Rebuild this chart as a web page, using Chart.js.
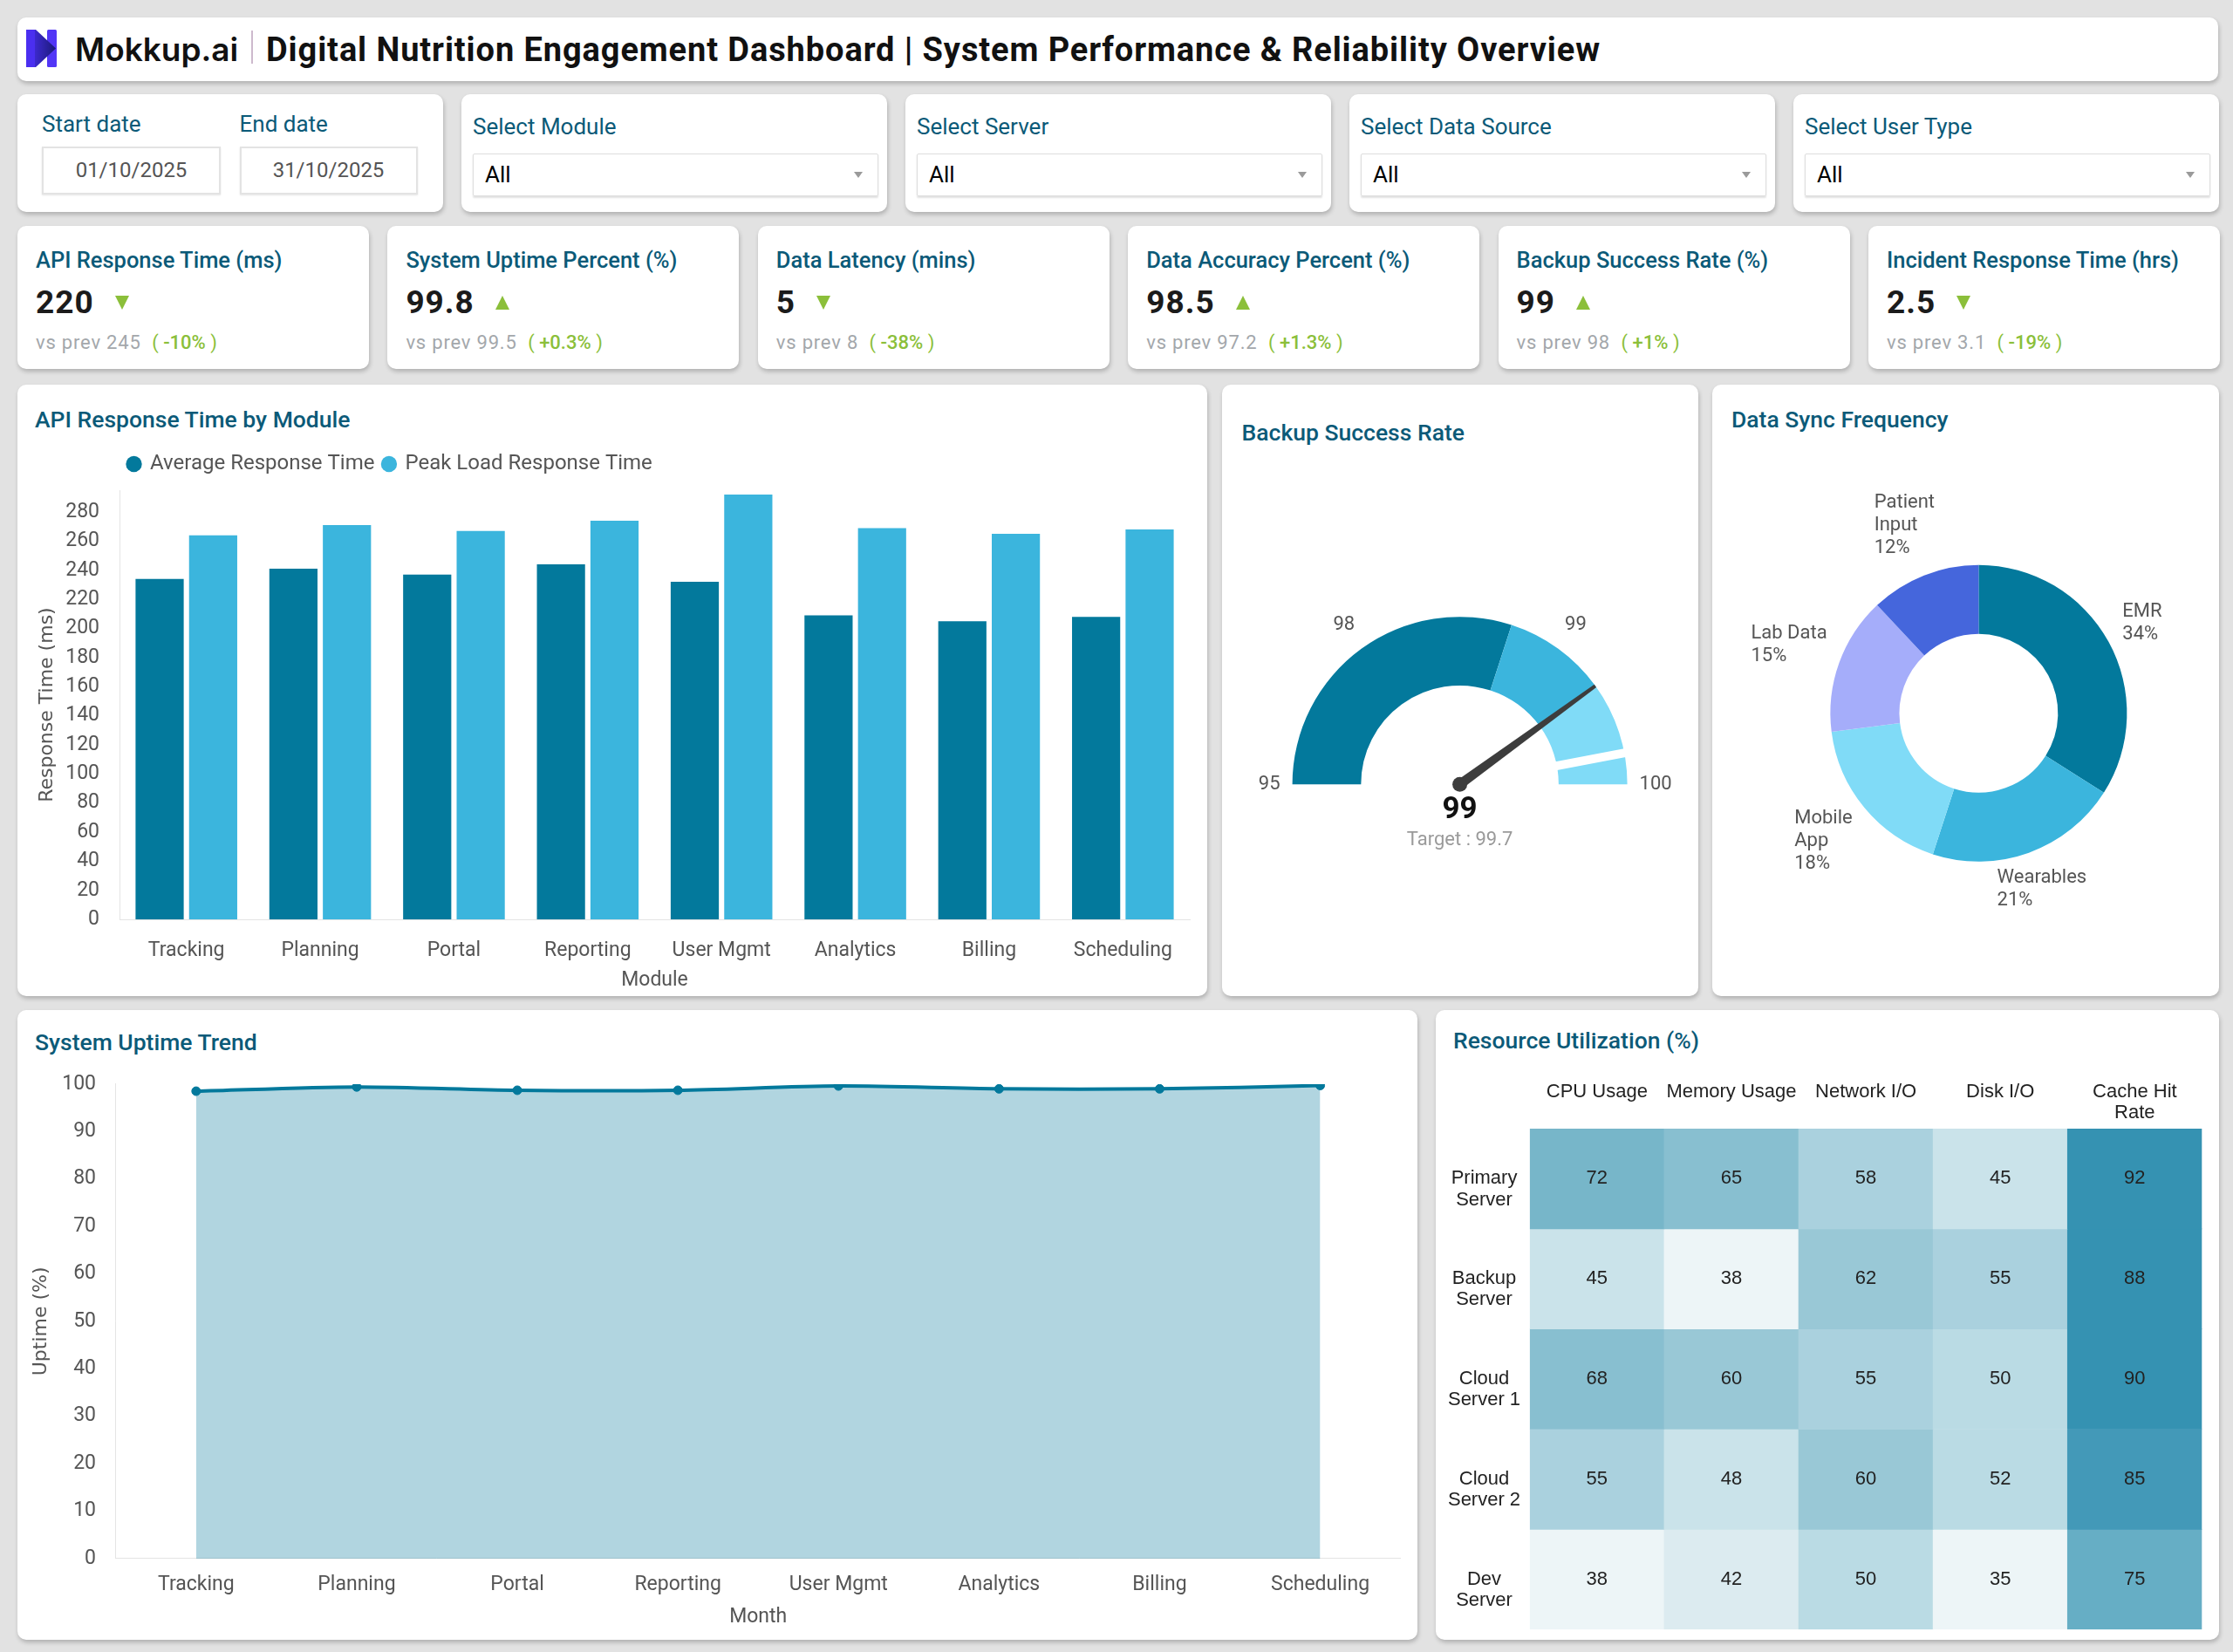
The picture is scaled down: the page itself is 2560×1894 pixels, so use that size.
<!DOCTYPE html>
<html>
<head>
<meta charset="utf-8">
<title>Digital Nutrition Engagement Dashboard</title>
<script src="https://cdn.jsdelivr.net/npm/chart.js@4.4.1/dist/chart.umd.min.js"></script>
<style>
  html, body { margin:0; padding:0; }
  body { width:2560px; height:1894px; background:#e2e2e2; position:relative; overflow:hidden; font-family: Roboto, "Noto Sans", sans-serif; }
  .card { position:absolute; background:#fff; border-radius:10px; box-shadow: 1px 3px 5px rgba(0,0,0,0.22); }
  .abs { position:absolute; white-space:nowrap; }
  canvas { position:absolute; }
</style>
</head>
<body>
<script>
// ---------------- DATA ----------------
const dashboardTitle = "Digital Nutrition Engagement Dashboard | System Performance & Reliability Overview";
const dateLabels = ["Start date", "End date"];
const dateRange = ["01/10/2025", "31/10/2025"];
const filterLabels = ["Select Module", "Select Server", "Select Data Source", "Select User Type"];
const filterValues = ["All", "All", "All", "All"];

const kpiTitles = ["API Response Time (ms)", "System Uptime Percent (%)", "Data Latency (mins)", "Data Accuracy Percent (%)", "Backup Success Rate (%)", "Incident Response Time (hrs)"];
const kpiValues = ["220", "99.8", "5", "98.5", "99", "2.5"];
const kpiPrev = ["245", "99.5", "8", "97.2", "98", "3.1"];
const kpiChange = ["-10%", "+0.3%", "-38%", "+1.3%", "+1%", "-19%"];
const kpiTrend = ["down", "up", "down", "up", "up", "down"];

const modules = ["Tracking", "Planning", "Portal", "Reporting", "User Mgmt", "Analytics", "Billing", "Scheduling"];
const avgResponse = [234, 241, 237, 244, 232, 209, 205, 208];
const peakResponse = [264, 271, 267, 274, 292, 269, 265, 268];

const gaugeMin = 95;
const gaugeMax = 100;
const gaugeBands = [98, 99, 100];
const backupRate = 99;
const backupTarget = 99.7;

const syncSources = ["EMR", "Wearables", "Mobile App", "Lab Data", "Patient Input"];
const syncShare = [34, 21, 18, 15, 12];

const uptimeCategories = ["Tracking", "Planning", "Portal", "Reporting", "User Mgmt", "Analytics", "Billing", "Scheduling"];
const uptime = [98.5, 99.4, 98.7, 98.7, 99.6, 99.0, 99.0, 99.7];

const servers = ["Primary Server", "Backup Server", "Cloud Server 1", "Cloud Server 2", "Dev Server"];
const resources = ["CPU Usage", "Memory Usage", "Network I/O", "Disk I/O", "Cache Hit Rate"];
const primaryUtil = [72, 65, 58, 45, 92];
const backupUtil = [45, 38, 62, 55, 88];
const cloud1Util = [68, 60, 55, 50, 90];
const cloud2Util = [55, 48, 60, 52, 85];
const devUtil = [38, 42, 50, 35, 75];

// ---------------- STYLE ----------------
const DARK = '#03799c', MID = '#3bb5dd', LIGHT = '#80dbf7', LAV = '#a5adfa', ROYAL = '#4566dc';
const TEAL = '#0b5a78', GREEN = '#8bbf3a';
const heatScale = [[0,'#edf5f7'],[40,'#dcebf0'],[45,'#cae3ea'],[50,'#badbe4'],[55,'#aad1de'],[60,'#99c8d6'],[65,'#88bfd0'],[70,'#77b6c9'],[75,'#66aec5'],[80,'#55a3bf'],[85,'#4399b8'],[88,'#3592b2']];
function heatColor(v){ let c = heatScale[0][1]; for (const [t, col] of heatScale) if (v >= t) c = col; return c; }

// ---------------- DOM helpers ----------------
function card(x, y, w, h){ const d = document.createElement('div'); d.className = 'card'; d.style.cssText = `left:${x}px;top:${y}px;width:${w}px;height:${h}px;`; document.body.appendChild(d); return d; }
function txt(parent, s, x, cy, css){ const d = document.createElement('div'); d.className = 'abs'; d.style.cssText = `left:${x}px;top:${cy-30}px;height:60px;line-height:60px;` + (css || ''); d.textContent = s; parent.appendChild(d); return d; }
function makeCanvas(x, y, w, h){ const c = document.createElement('canvas'); c.width = w; c.height = h; c.style.left = x + 'px'; c.style.top = y + 'px'; c.style.width = w + 'px'; c.style.height = h + 'px'; document.body.appendChild(c); return c; }

// Header
const hdr = card(20, 20, 2523, 73);
hdr.insertAdjacentHTML('beforeend', `<svg style="position:absolute;left:10px;top:14px" width="35" height="43" viewBox="0 0 35 43">
<defs><linearGradient id="lg" x1="0" y1="0" x2="1" y2="0"><stop offset="0" stop-color="#4a2ff0"/><stop offset="1" stop-color="#1b1a78"/></linearGradient></defs>
<rect x="24" y="0" width="11" height="43" rx="1.5" fill="#5236f6"/>
<path d="M0 0 L11 0 L34 21.5 L11 43 L0 43 Z" fill="url(#lg)"/>
<rect x="0" y="0" width="10" height="43" fill="#4a2ff0"/>
</svg>`);
txt(hdr, 'Mokkup.ai', 66, 36.5, 'font-family:Inter,Roboto;font-weight:600;font-size:37px;color:#111;');
const sep = document.createElement('div'); sep.style.cssText = 'position:absolute;left:268px;top:15px;width:1.5px;height:38px;background:#cdb9cd;'; hdr.appendChild(sep);
txt(hdr, dashboardTitle, 285, 36.5, 'font-weight:700;font-size:38px;letter-spacing:0.9px;color:#111;');

// Filters
const fc = card(20, 108, 488, 135);
[28, 254.5].forEach((x, i) => {
  txt(fc, dateLabels[i], x, 33.5, `font-size:26px;color:${TEAL};`);
  const b = document.createElement('div');
  b.style.cssText = `position:absolute;left:${x}px;top:60px;width:${i ? 204 : 205}px;height:55px;box-sizing:border-box;border:2px solid #e3e3e3;box-shadow:0 1px 2px rgba(0,0,0,0.10);text-align:center;line-height:51px;font-size:24px;color:#555;`;
  b.textContent = dateRange[i]; fc.appendChild(b);
});
filterLabels.forEach((lab, i) => {
  const c = card(20 + (i + 1) * 509, 108, 488, 135);
  txt(c, lab, 13, 36.5, `font-size:26px;color:${TEAL};`);
  const b = document.createElement('div');
  b.style.cssText = 'position:absolute;left:13px;top:68px;width:465px;height:49px;box-sizing:border-box;border:1.5px solid #dedede;box-shadow:0 1.5px 2px rgba(0,0,0,0.12);border-radius:2px;';
  c.appendChild(b);
  txt(b, filterValues[i], 13, 23, 'font-size:26px;color:#000;');
  const car = document.createElement('div');
  car.style.cssText = 'position:absolute;right:17px;top:20px;width:0;height:0;border-left:5px solid transparent;border-right:5px solid transparent;border-top:7px solid #9a9a9a;';
  b.appendChild(car);
});

// KPI cards
kpiTitles.forEach((t, i) => {
  const c = card(20 + i * 424.4, 259, 403, 164);
  txt(c, t, 21, 39, `font-size:25.5px;font-weight:500;color:${TEAL};`);
  const row = document.createElement('div');
  row.style.cssText = 'position:absolute;left:21px;top:63px;height:50px;display:flex;align-items:center;gap:24px;';
  const v = document.createElement('span'); v.textContent = kpiValues[i];
  v.style.cssText = 'font-size:37px;font-weight:700;color:#1b1b1b;letter-spacing:1px;line-height:50px;';
  const tri = document.createElement('span');
  tri.style.cssText = kpiTrend[i] === 'up'
    ? `width:0;height:0;border-left:8px solid transparent;border-right:8px solid transparent;border-bottom:16px solid ${GREEN};`
    : `width:0;height:0;border-left:8px solid transparent;border-right:8px solid transparent;border-top:16px solid ${GREEN};`;
  row.appendChild(v); row.appendChild(tri); c.appendChild(row);
  const sub = txt(c, '', 21, 134, 'font-size:22px;color:#a3a7ab;letter-spacing:0.8px;');
  sub.innerHTML = `vs prev ${kpiPrev[i]}&nbsp; <span style="color:${GREEN};letter-spacing:0">(&nbsp;<b style="font-weight:500">${kpiChange[i]}</b>&nbsp;)</span>`;
});

// Chart cards
const barCard = card(20, 441, 1364, 701);
txt(barCard, 'API Response Time by Module', 20, 39.5, `font-size:26.5px;font-weight:500;color:${TEAL};`);
const gaugeCard = card(1401, 441, 546, 701);
txt(gaugeCard, 'Backup Success Rate', 22.6, 55, `font-size:26.5px;font-weight:500;color:${TEAL};`);
const donutCard = card(1963, 441, 581, 701);
txt(donutCard, 'Data Sync Frequency', 22, 40, `font-size:26.5px;font-weight:500;color:${TEAL};`);
const lineCard = card(20, 1158, 1605, 722);
txt(lineCard, 'System Uptime Trend', 20, 37, `font-size:26.5px;font-weight:500;color:${TEAL};`);
const heatCard = card(1646, 1158, 898, 722);
txt(heatCard, 'Resource Utilization (%)', 20, 34.6, `font-size:26.5px;font-weight:500;color:${TEAL};`);

// ---------------- Chart.js ----------------
Chart.defaults.font.family = 'Roboto';
Chart.defaults.color = '#555';
Chart.defaults.animation = false;
Chart.defaults.responsive = false;
Chart.defaults.devicePixelRatio = 1;
Chart.defaults.plugins.tooltip.enabled = false;

const legendShift = { id: 'legendShift', beforeDraw(chart){
  const lg = chart.legend, ca = chart.chartArea; const w = lg.width, h = lg.height;
  lg.left = ca.left; lg.right = lg.left + w; lg.top = ca.top - 52; lg.bottom = lg.top + h;
}};

// Bar chart
new Chart(makeCanvas(30, 500, 1342, 642), {
  type: 'bar',
  data: { labels: modules, datasets: [
    { label: 'Average Response Time', data: avgResponse, backgroundColor: DARK, borderWidth: 0 },
    { label: 'Peak Load Response Time', data: peakResponse, backgroundColor: MID, borderWidth: 0 }
  ]},
  options: {
    layout: { padding: { left: 7.6, right: 8, top: 18, bottom: 0 } },
    plugins: { legend: { position: 'top', align: 'start', labels: { usePointStyle: true, pointStyle: 'circle', boxWidth: 13, boxHeight: 13, padding: 10, color: '#555', font: { size: 24 } } } },
    scales: {
      x: { grid: { display: false }, border: { color: '#e4e4e4' },
           ticks: { color: '#555', font: { size: 23 }, padding: 14, maxRotation: 0, autoSkip: false },
           title: { display: true, text: 'Module', color: '#555', font: { size: 23 }, padding: { top: 4, bottom: 4 } },
           afterFit: s => { s.height = 87.8; s.paddingLeft = 0; s.paddingRight = 0; } },
      y: { min: 0, max: 295, grid: { display: false }, border: { color: '#e4e4e4' },
           ticks: { stepSize: 20, includeBounds: false, color: '#555', font: { size: 23 }, padding: 15 },
           title: { display: true, text: 'Response Time (ms)', color: '#555', font: { family: 'DejaVu Sans', size: 22 }, padding: { top: 3, bottom: 3 } },
           afterFit: s => { s.width = 99.4; s.paddingTop = 0; s.paddingBottom = 0; } }
    }
  },
  plugins: [legendShift]
});

// Gauge
const gaugeDeco = { id: 'gaugeDeco', afterDatasetsDraw(chart){
  const ctx = chart.ctx; const arcs = chart.getDatasetMeta(0).data;
  const a0 = arcs[0]; const cx = a0.x, cy = a0.y, R = a0.outerRadius, r = a0.innerRadius;
  const start = a0.startAngle, end = arcs[arcs.length - 1].endAngle;
  const ang = v => start + (v - gaugeMin) / (gaugeMax - gaugeMin) * (end - start);
  ctx.save();
  const t = ang(backupTarget);
  ctx.strokeStyle = '#fff'; ctx.lineWidth = 10;
  ctx.beginPath(); ctx.moveTo(cx + Math.cos(t) * (r - 2), cy + Math.sin(t) * (r - 2)); ctx.lineTo(cx + Math.cos(t) * (R + 2), cy + Math.sin(t) * (R + 2)); ctx.stroke();
  const n = ang(backupRate); const ux = Math.cos(n), uy = Math.sin(n); const px = -uy, py = ux;
  ctx.fillStyle = '#3d3d3d';
  ctx.beginPath();
  ctx.moveTo(cx + px * 5.5, cy + py * 5.5);
  ctx.lineTo(cx + ux * R + px * 2, cy + uy * R + py * 2);
  ctx.lineTo(cx + ux * R - px * 2, cy + uy * R - py * 2);
  ctx.lineTo(cx - px * 5.5, cy - py * 5.5);
  ctx.closePath(); ctx.fill();
  ctx.beginPath(); ctx.arc(cx, cy, 8.5, 0, Math.PI * 2); ctx.fill();
  ctx.font = '22px Roboto'; ctx.fillStyle = '#555'; ctx.textBaseline = 'middle';
  ctx.textAlign = 'right'; ctx.fillText(String(gaugeMin), cx - R - 14, cy);
  ctx.textAlign = 'left'; ctx.fillText(String(gaugeMax), cx + R + 14, cy);
  ctx.textAlign = 'center';
  let prev = gaugeMin;
  gaugeBands.slice(0, -1).forEach(b => { const m = ang((prev + b) / 2); ctx.fillText(String(b), cx + Math.cos(m) * (R + 34), cy + Math.sin(m) * (R + 34)); prev = b; });
  ctx.font = 'bold 35px Roboto'; ctx.fillStyle = '#111'; ctx.fillText(String(backupRate), cx, cy + 30.5);
  ctx.font = '22px Roboto'; ctx.fillStyle = '#9a9a9a'; ctx.fillText('Target : ' + backupTarget, cx, cy + 64.5);
  ctx.restore();
}};
const bandSizes = gaugeBands.map((b, i) => b - (i ? gaugeBands[i - 1] : gaugeMin));
new Chart(makeCanvas(1401, 501, 546, 641), {
  type: 'doughnut',
  data: { labels: gaugeBands.map(String), datasets: [{ data: bandSizes, backgroundColor: [DARK, MID, LIGHT], borderWidth: 0 }] },
  options: { rotation: -90, circumference: 180, cutout: '59%',
    layout: { padding: { left: 80.6, right: 81.4, top: 206.2, bottom: 242.8 } },
    plugins: { legend: { display: false } } },
  plugins: [gaugeDeco]
});

// Donut
function wrapText(ctx, s, maxW){ const words = s.split(' '); const lines = []; let cur = '';
  words.forEach(w => { const test = cur ? cur + ' ' + w : w; if (cur && ctx.measureText(test).width > maxW) { lines.push(cur); cur = w; } else cur = test; });
  if (cur) lines.push(cur); return lines; }
const donutLabels = { id: 'donutLabels', afterDatasetsDraw(chart){
  const ctx = chart.ctx; const meta = chart.getDatasetMeta(0); const data = chart.data.datasets[0].data;
  const total = data.reduce((a, b) => a + b, 0);
  ctx.save(); ctx.font = '22px Roboto'; ctx.fillStyle = '#555'; ctx.textBaseline = 'middle'; ctx.textAlign = 'left';
  meta.data.forEach((arc, i) => {
    const mid = (arc.startAngle + arc.endAngle) / 2; const ux = Math.cos(mid), uy = Math.sin(mid);
    const rr = arc.outerRadius + (ux < 0 ? 61 : 44);
    const px = arc.x + ux * rr, py = arc.y + uy * rr;
    const lines = wrapText(ctx, chart.data.labels[i], 95).concat([Math.round(data[i] / total * 100) + '%']);
    const w = Math.max(...lines.map(l => ctx.measureText(l).width));
    lines.forEach((l, k) => ctx.fillText(l, px - w / 2, py + (k - (lines.length - 1) / 2) * 26));
  });
  ctx.restore();
}};
new Chart(makeCanvas(1963, 501, 581, 641), {
  type: 'doughnut',
  data: { labels: syncSources, datasets: [{ data: syncShare, backgroundColor: [DARK, MID, LIGHT, LAV, ROYAL], borderWidth: 0 }] },
  options: { cutout: '53.5%',
    layout: { padding: { left: 135.4, right: 105.6, top: 146.7, bottom: 154.3 } },
    plugins: { legend: { display: false } } },
  plugins: [donutLabels]
});

// Line / area chart
new Chart(makeCanvas(20, 1215, 1595, 665), {
  type: 'line',
  data: { labels: uptimeCategories, datasets: [{ label: 'Uptime', data: uptime, borderColor: DARK, backgroundColor: 'rgba(3,121,156,0.31)', fill: 'origin', borderWidth: 4, tension: 0.3, pointRadius: 5, pointBackgroundColor: DARK, pointBorderColor: DARK, pointBorderWidth: 1 }] },
  options: {
    layout: { padding: { left: 11, right: 9.4, top: 27.9, bottom: 8.2 } },
    plugins: { legend: { display: false } },
    scales: {
      x: { offset: true, grid: { display: false }, border: { color: '#e4e4e4' },
           ticks: { color: '#555', font: { size: 23 }, padding: 8.3, maxRotation: 0, autoSkip: false },
           title: { display: true, text: 'Month', color: '#555', font: { size: 23 }, padding: { top: 4, bottom: 4 } },
           afterFit: s => { s.height = 84.9; s.paddingLeft = 0; s.paddingRight = 0; } },
      y: { min: 0, max: 100, grid: { display: false }, border: { color: '#e4e4e4' },
           ticks: { stepSize: 10, color: '#555', font: { size: 23 }, padding: 14.8 },
           title: { display: true, text: 'Uptime (%)', color: '#555', font: { family: 'DejaVu Sans', size: 22 }, padding: { top: 3, bottom: 3 } },
           afterFit: s => { s.width = 101.8; s.paddingTop = 0; s.paddingBottom = 0; } }
    }
  }
});

// Heatmap (stacked unit bars coloured by value)
const utilization = [primaryUtil, backupUtil, cloud1Util, cloud2Util, devUtil];
const wrapRow = s => { const i = s.indexOf(' '); return [s.slice(0, i), s.slice(i + 1)]; };
const wrapCol = s => { const w = s.split(' '); return w.length > 2 ? [w.slice(0, -1).join(' '), w[w.length - 1]] : s; };
const heatLabels = { id: 'heatLabels', afterDatasetsDraw(chart){
  const ctx = chart.ctx; ctx.save(); ctx.font = '22px "Liberation Sans"'; ctx.fillStyle = '#222'; ctx.textAlign = 'center'; ctx.textBaseline = 'middle';
  chart.data.datasets.forEach((ds, r) => { chart.getDatasetMeta(r).data.forEach((bar, c) => { ctx.fillText(String(ds.values[c]), bar.x, (bar.y + bar.base) / 2); }); });
  ctx.restore();
}};
new Chart(makeCanvas(1650, 1225, 884, 653), {
  type: 'bar',
  data: { labels: resources.map(wrapCol), datasets: servers.map((s, r) => ({
    label: s, data: resources.map(() => 1), values: utilization[r],
    backgroundColor: utilization[r].map(heatColor), borderWidth: 0,
    categoryPercentage: 1, barPercentage: 1 })) },
  options: {
    layout: { padding: { left: 6, right: 9.6, top: 9, bottom: 9.8 } },
    plugins: { legend: { display: false } },
    scales: {
      x: { position: 'top', stacked: true, grid: { display: false }, border: { display: false },
           ticks: { color: '#222', font: { family: 'Liberation Sans', size: 22, lineHeight: 1.1 }, padding: -2, crossAlign: 'far', maxRotation: 0, autoSkip: false },
           afterFit: s => { s.height = 60; s.paddingLeft = 0; s.paddingRight = 0; } },
      y: { stacked: true, reverse: true, min: 0, max: 5, grid: { display: false }, border: { display: false },
           afterBuildTicks: s => { s.ticks = servers.map((_, i) => ({ value: i + 0.5 })); },
           ticks: { callback: v => wrapRow(servers[Math.floor(v)]), color: '#222', font: { family: 'Liberation Sans', size: 22, lineHeight: 1.1 }, crossAlign: 'center', padding: 2.7, labelOffset: 12, autoSkip: false },
           afterFit: s => { s.width = 97.8; s.paddingTop = 0; s.paddingBottom = 0; } }
    }
  },
  plugins: [heatLabels]
});
</script>
</body>
</html>
